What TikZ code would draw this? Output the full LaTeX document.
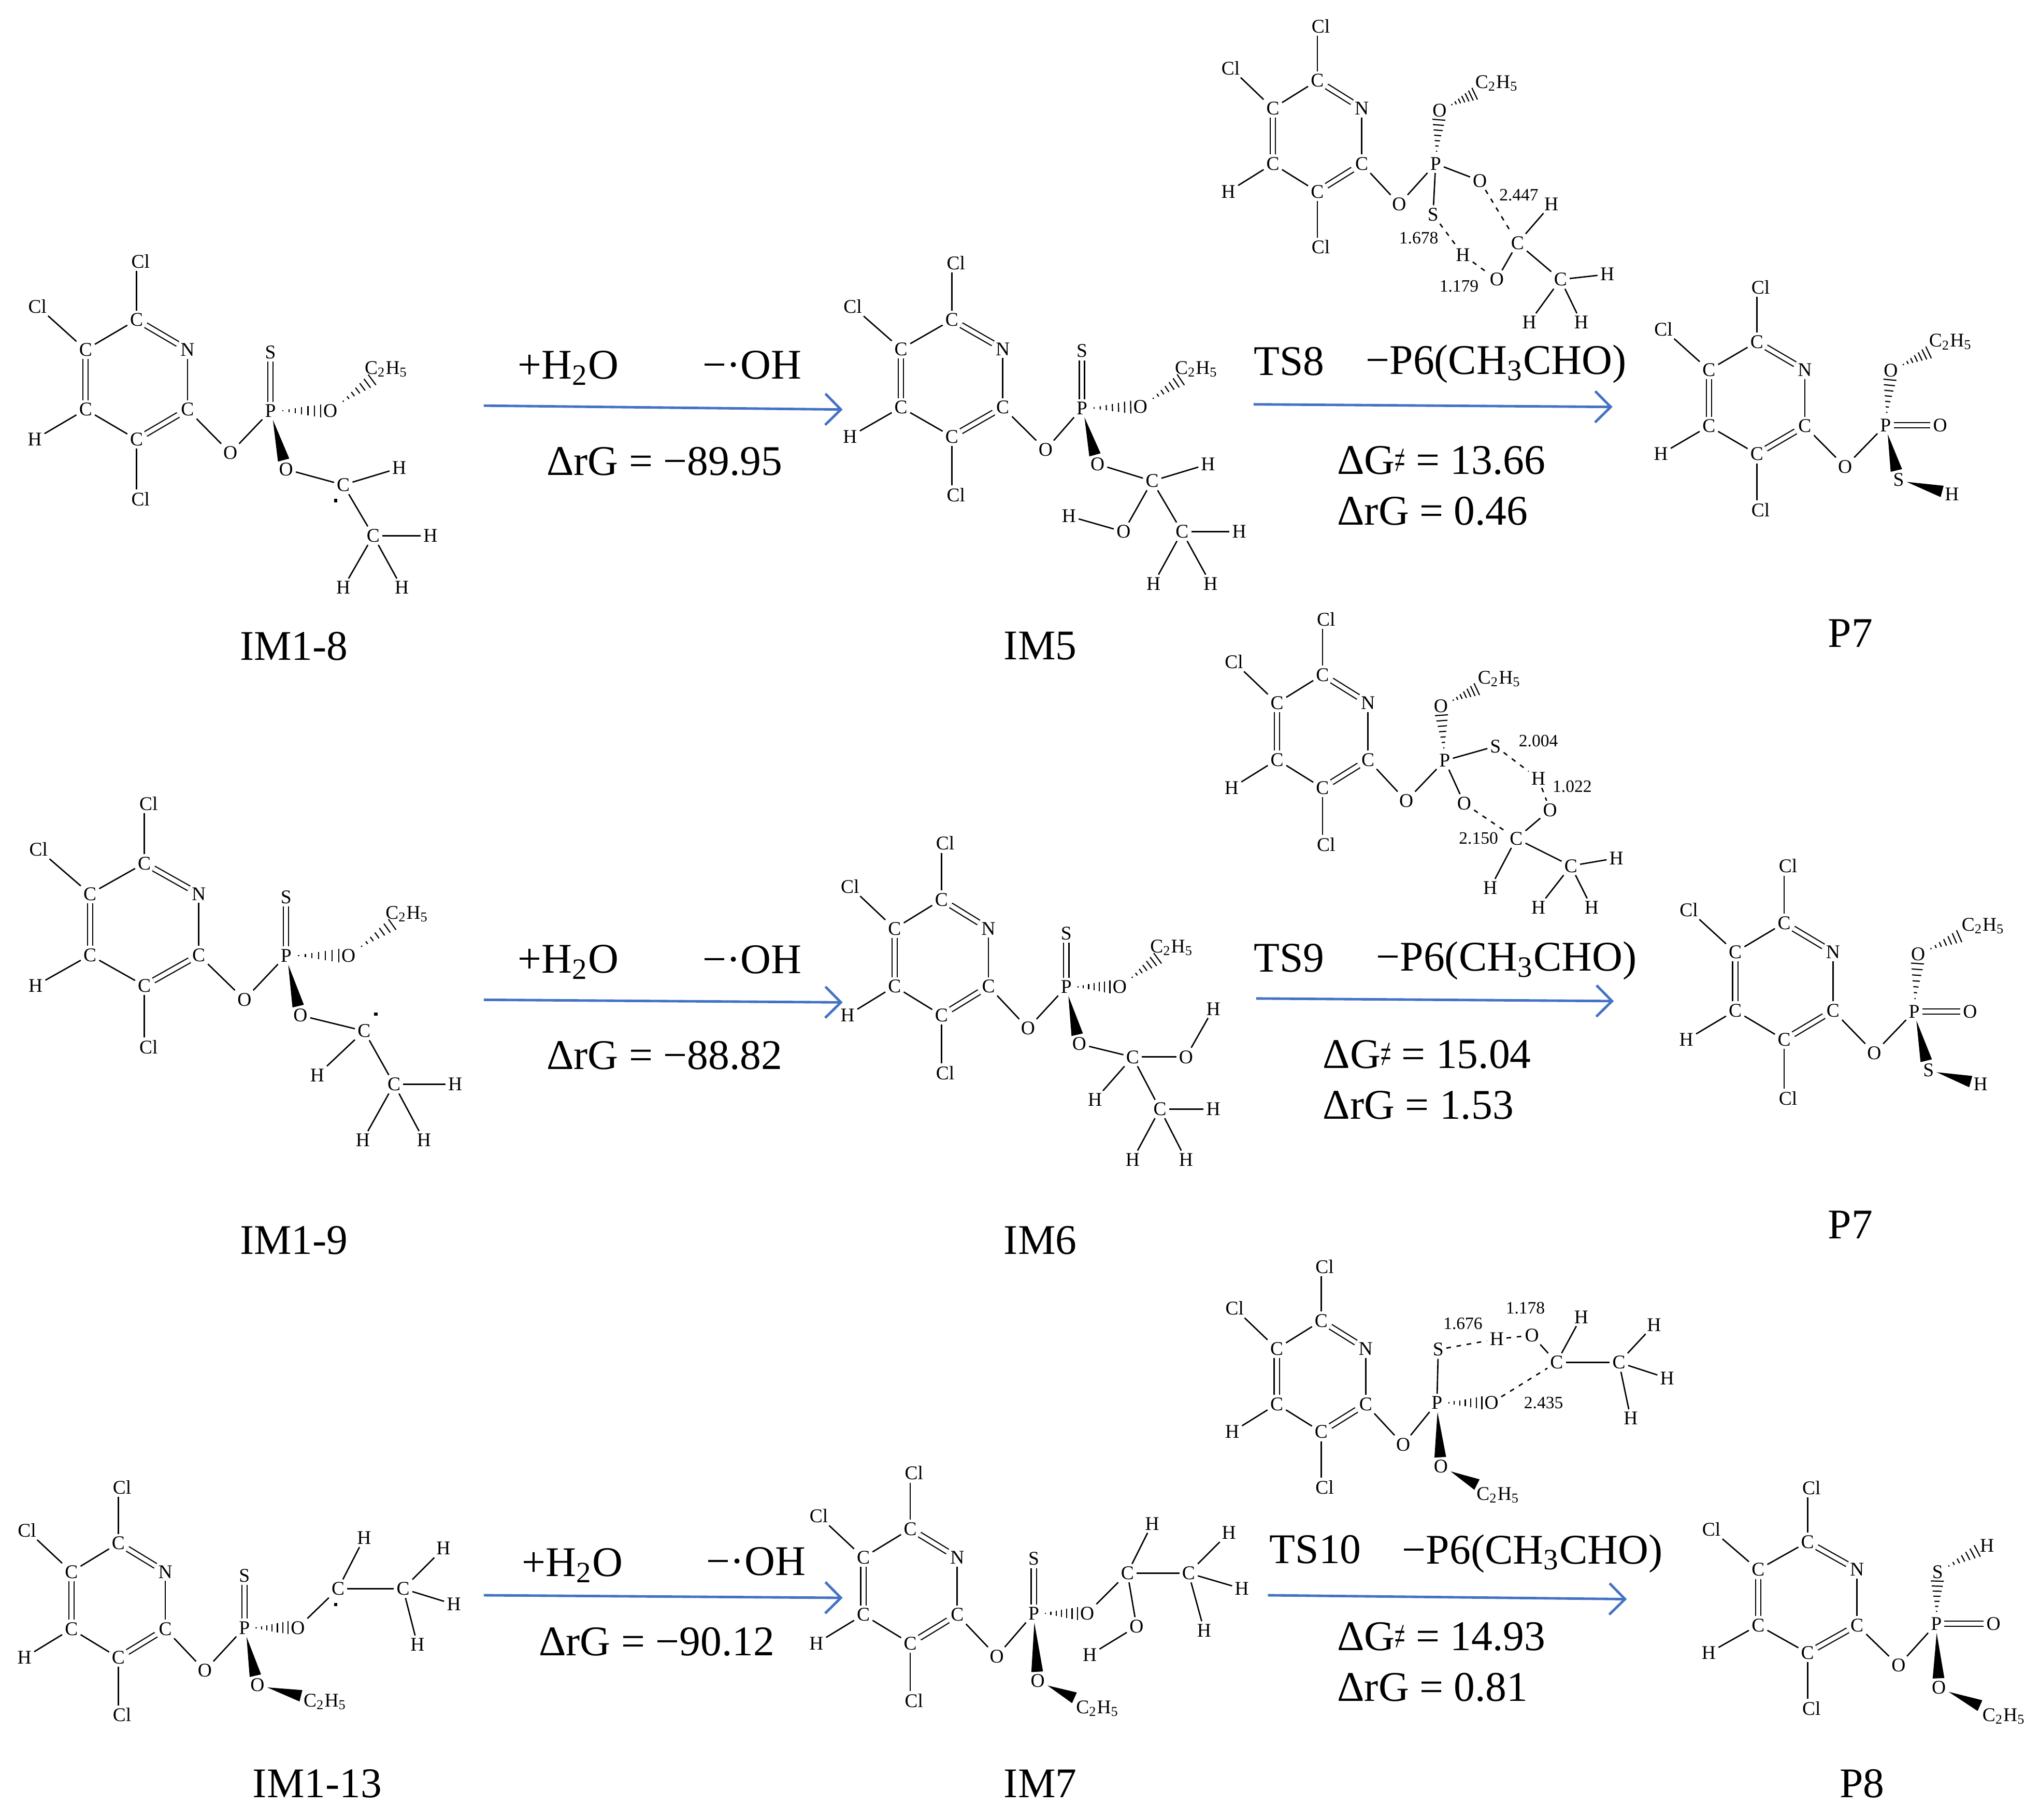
\documentclass[tikz,border=0pt]{standalone}
\usepackage{fontspec}
\setmainfont{Liberation Serif}
\usetikzlibrary{arrows.meta,calc}
\definecolor{rxnblue}{RGB}{68,114,196}
\tikzset{
  atom/.style={font=\fontsize{8.5}{10}\selectfont, inner sep=1pt},
  dist/.style={font=\fontsize{7.6}{9}\selectfont, inner sep=0},
  big/.style={font=\fontsize{18.5}{22}\selectfont, inner sep=0, anchor=west},
  mol/.style={font=\fontsize{18.5}{22}\selectfont, inner sep=0},
  bond/.style={line width=.6pt},
  dbl/.style={double, double distance=1.8pt, line width=.5pt},
  hbond/.style={line width=.6pt, dash pattern=on 2pt off 2.5pt},
  hash/.style={line width=.5pt},
  radical/.style={fill, inner sep=0, minimum size=1.4pt},
  rxn/.style={draw=rxnblue, line width=1.1pt, -{Straight Barb[length=.24cm, width=.48cm, line width=1.1pt]}}
}
\newcommand{\ethyl}{C\textsubscript{2}H\textsubscript{5}}
\newcommand{\noteq}{\scalebox{.45}[1]{≠}}
%pyridine ring with Cl, H and the ester O
\newcommand{\ring}[5]{
  \begin{scope}[shift={(#2,#3)}, xscale=#4, yscale=#5]
    \node[atom] (#1c1) at (0,0) {C};
    \node[atom] (#1c2) at (-38,22) {C};
    \node[atom] (#1n) at (38,22) {N};
    \node[atom] (#1c3) at (-38,66) {C};
    \node[atom] (#1c4) at (38,66) {C};
    \node[atom] (#1c5) at (0,88) {C};
    \node[atom] (#1cla) at (3,-43) {Cl};
    \node[atom] (#1clb) at (-74,-10) {Cl};
    \node[atom] (#1h) at (-76,88) {H};
    \node[atom] (#1clc) at (3,132) {Cl};
    \node[atom] (#1o) at (70,98) {O};
  \end{scope}
  \draw[bond] (#1c1) -- (#1c2);
  \draw[dbl] (#1c1) -- (#1n);
  \draw[dbl] (#1c2) -- (#1c3);
  \draw[bond] (#1n) -- (#1c4);
  \draw[bond] (#1c3) -- (#1c5);
  \draw[dbl] (#1c4) -- (#1c5);
  \draw[bond] (#1c1) -- (#1cla.south -| #1c1);
  \draw[bond] (#1c2) -- (#1clb);
  \draw[bond] (#1c3) -- (#1h);
  \draw[bond] (#1c5) -- (#1clc.north -| #1c5);
  \draw[bond] (#1c4) -- (#1o);
}
%solid wedge, narrow end at the first node
\newcommand{\wedgebond}[2]{
  \path (#1) -- (#2) coordinate[pos=0] (hs) coordinate[pos=1] (he);
  \fill (hs) -- ($(he)!.09cm!90:(hs)$) -- ($(he)!.09cm!-90:(hs)$) -- cycle;
}
%hashed wedge
\newcommand{\hashbond}[2]{
  \path (#1) -- (#2) coordinate[pos=0] (hs) coordinate[pos=1] (he);
  \coordinate (ht) at ($(he)!.1cm!90:(hs)$);
  \coordinate (hb) at ($(he)!.1cm!-90:(hs)$);
  \foreach \t in {.1,.25,.4,.55,.7,.85,1}{
    \draw[hash] ($(hs)!\t!(ht)$) -- ($(hs)!\t!(hb)$);
  }
}
\begin{document}
\begin{tikzpicture}[x=.02cm, y=-.02cm]
\useasboundingbox (0,0) rectangle (1568,1399.5);

%im1-8
\ring{a}{105}{246}{1.03}{1.045}
\node[atom] (aP) at (208,316) {P};
\node[atom] (aS) at (208,271) {S};
\node[atom] (aO1) at (254,316) {O};
\node[atom] (aE) at (297,284) {\ethyl};
\node[atom] (aO2) at (220,361) {O};
\node[atom] (aC1) at (264,373) {C};
\node[radical] (aR) at (258,385) {};
\node[atom] (aH1) at (307,360) {H};
\node[atom] (aC2) at (287,412) {C};
\node[atom] (aH2) at (331,412) {H};
\node[atom] (aH3) at (264,452) {H};
\node[atom] (aH4) at (309,452) {H};
\draw[bond] (ao) -- (aP);
\draw[dbl] (aP) -- (aS);
\hashbond{aP}{aO1}
\hashbond{aO1}{aE}
\wedgebond{aP}{aO2}
\draw[bond] (aO2) -- (aC1);
\draw[bond] (aC1) -- (aH1);
\draw[bond] (aC1) -- (aC2);
\draw[bond] (aC2) -- (aH2);
\draw[bond] (aC2) -- (aH3);
\draw[bond] (aC2) -- (aH4);
\node[mol] (nA) at (226,497) {IM1-8};

%im5
\ring{b}{732}{246}{1.03}{1.02}
\node[atom] (bP) at (832,314) {P};
\node[atom] (bS) at (832,270) {S};
\node[atom] (bO1) at (877,313) {O};
\node[atom] (bE) at (920,284) {\ethyl};
\node[atom] (bO2) at (844,357) {O};
\node[atom] (bC1) at (886,370) {C};
\node[atom] (bH1) at (929,357) {H};
\node[atom] (bO3) at (864,409) {O};
\node[atom] (bH5) at (822,397) {H};
\node[atom] (bC2) at (909,409) {C};
\node[atom] (bH2) at (953,409) {H};
\node[atom] (bH3) at (887,449) {H};
\node[atom] (bH4) at (931,449) {H};
\draw[bond] (bo) -- (bP);
\draw[dbl] (bP) -- (bS);
\hashbond{bP}{bO1}
\hashbond{bO1}{bE}
\wedgebond{bP}{bO2}
\draw[bond] (bO2) -- (bC1);
\draw[bond] (bC1) -- (bH1);
\draw[bond] (bC1) -- (bO3);
\draw[bond] (bO3) -- (bH5);
\draw[bond] (bC1) -- (bC2);
\draw[bond] (bC2) -- (bH2);
\draw[bond] (bC2) -- (bH3);
\draw[bond] (bC2) -- (bH4);
\node[mol] (nB) at (800,497) {IM5};

%ts8
\ring{c}{1013}{62}{.9}{.97}
\node[atom] (cP) at (1104,126) {P};
\node[atom] (cO1) at (1107,85) {O};
\node[atom] (cE) at (1151,64) {\ethyl};
\node[atom] (cO2) at (1138,139) {O};
\node[atom] (cS) at (1102,165) {S};
\node[atom] (cH5) at (1125,196) {H};
\node[atom] (cO3) at (1151,215) {O};
\node[atom] (cC1) at (1167,187) {C};
\node[atom] (cH1) at (1193,157) {H};
\node[atom] (cC2) at (1200,215) {C};
\node[atom] (cH2) at (1236,211) {H};
\node[atom] (cH3) at (1176,248) {H};
\node[atom] (cH4) at (1216,248) {H};
\node[dist] (cD1) at (1091,183) {1.678};
\node[dist] (cD2) at (1168,150) {2.447};
\node[dist] (cD3) at (1122,220) {1.179};
\draw[bond] (co) -- (cP);
\hashbond{cP}{cO1}
\hashbond{cO1}{cE}
\draw[bond] (cP) -- (cO2);
\draw[bond] (cP) -- (cS);
\draw[hbond] (cS) -- (cH5);
\draw[hbond] (cH5) -- (cO3);
\draw[hbond] (cO2) -- (cC1);
\draw[bond] (cO3) -- (cC1);
\draw[bond] (cC1) -- (cH1);
\draw[bond] (cC1) -- (cC2);
\draw[bond] (cC2) -- (cH2);
\draw[bond] (cC2) -- (cH3);
\draw[bond] (cC2) -- (cH4);

%p7
\ring{d}{1351}{263}{.97}{.98}
\node[atom] (dP) at (1450,327) {P};
\node[atom] (dO2) at (1492,327) {O};
\node[atom] (dO1) at (1454,285) {O};
\node[atom] (dE) at (1500,263) {\ethyl};
\node[atom] (dS) at (1460,369) {S};
\node[atom] (dH1) at (1501,380) {H};
\draw[bond] (do) -- (dP);
\draw[dbl] (dP) -- (dO2);
\hashbond{dP}{dO1}
\hashbond{dO1}{dE}
\wedgebond{dP}{dS}
\wedgebond{dS}{dH1}
\node[mol] (nD) at (1423,487) {P7};

%im1-9
\ring{e}{111}{664}{1.1}{1.07}
\node[atom] (eP) at (220,735) {P};
\node[atom] (eS) at (220,690) {S};
\node[atom] (eO1) at (268,735) {O};
\node[atom] (eE) at (313,703) {\ethyl};
\node[atom] (eO2) at (231,781) {O};
\node[atom] (eC1) at (280,793) {C};
\node[radical] (eR) at (289,780) {};
\node[atom] (eH1) at (244,827) {H};
\node[atom] (eC2) at (303,834) {C};
\node[atom] (eH2) at (350,834) {H};
\node[atom] (eH3) at (279,877) {H};
\node[atom] (eH4) at (326,877) {H};
\draw[bond] (eo) -- (eP);
\draw[dbl] (eP) -- (eS);
\hashbond{eP}{eO1}
\hashbond{eO1}{eE}
\wedgebond{eP}{eO2}
\draw[bond] (eO2) -- (eC1);
\draw[bond] (eC1) -- (eH1);
\draw[bond] (eC1) -- (eC2);
\draw[bond] (eC2) -- (eH2);
\draw[bond] (eC2) -- (eH3);
\draw[bond] (eC2) -- (eH4);
\node[mol] (nE) at (226,954) {IM1-9};

%im6
\ring{f}{724}{692}{.95}{1.01}
\node[atom] (fP) at (820,759) {P};
\node[atom] (fS) at (820,718) {S};
\node[atom] (fO1) at (861,759) {O};
\node[atom] (fE) at (901,729) {\ethyl};
\node[atom] (fO2) at (830,803) {O};
\node[atom] (fC1) at (871,813) {C};
\node[atom] (fO3) at (912,813) {O};
\node[atom] (fH5) at (933,776) {H};
\node[atom] (fH1) at (842,846) {H};
\node[atom] (fC2) at (892,853) {C};
\node[atom] (fH2) at (933,853) {H};
\node[atom] (fH3) at (871,892) {H};
\node[atom] (fH4) at (912,892) {H};
\draw[bond] (fo) -- (fP);
\draw[dbl] (fP) -- (fS);
\hashbond{fP}{fO1}
\hashbond{fO1}{fE}
\wedgebond{fP}{fO2}
\draw[bond] (fO2) -- (fC1);
\draw[bond] (fC1) -- (fO3);
\draw[bond] (fO3) -- (fH5);
\draw[bond] (fC1) -- (fH1);
\draw[bond] (fC1) -- (fC2);
\draw[bond] (fC2) -- (fH2);
\draw[bond] (fC2) -- (fH3);
\draw[bond] (fC2) -- (fH4);
\node[mol] (nF) at (800,954) {IM6};

%ts9
\ring{g}{1017}{519}{.92}{.99}
\node[atom] (gP) at (1111,585) {P};
\node[atom] (gO1) at (1108,543) {O};
\node[atom] (gE) at (1153,522) {\ethyl};
\node[atom] (gS) at (1150,574) {S};
\node[atom] (gH5) at (1183,599) {H};
\node[atom] (gO3) at (1192,623) {O};
\node[atom] (gO2) at (1126,618) {O};
\node[atom] (gC1) at (1166,645) {C};
\node[atom] (gC2) at (1208,666) {C};
\node[atom] (gH1) at (1146,683) {H};
\node[atom] (gH2) at (1243,660) {H};
\node[atom] (gH3) at (1183,698) {H};
\node[atom] (gH4) at (1224,698) {H};
\node[dist] (gD1) at (1183,570) {2.004};
\node[dist] (gD2) at (1209,605) {1.022};
\node[dist] (gD3) at (1137,645) {2.150};
\draw[bond] (go) -- (gP);
\hashbond{gP}{gO1}
\hashbond{gO1}{gE}
\draw[bond] (gP) -- (gS);
\draw[bond] (gP) -- (gO2);
\draw[hbond] (gS) -- (gH5);
\draw[hbond] (gH5) -- (gO3);
\draw[hbond] (gO2) -- (gC1);
\draw[bond] (gO3) -- (gC1);
\draw[bond] (gC1) -- (gH1);
\draw[bond] (gC1) -- (gC2);
\draw[bond] (gC2) -- (gH2);
\draw[bond] (gC2) -- (gH3);
\draw[bond] (gC2) -- (gH4);

%p7 second row
\ring{h}{1372}{710}{.99}{1.02}
\node[atom] (hP) at (1472,778) {P};
\node[atom] (hO2) at (1515,778) {O};
\node[atom] (hO1) at (1475,734) {O};
\node[atom] (hE) at (1525,712) {\ethyl};
\node[atom] (hS) at (1483,823) {S};
\node[atom] (hH1) at (1523,834) {H};
\draw[bond] (ho) -- (hP);
\draw[dbl] (hP) -- (hO2);
\hashbond{hP}{hO1}
\hashbond{hO1}{hE}
\wedgebond{hP}{hS}
\wedgebond{hS}{hH1}
\node[mol] (nH) at (1423,942) {P7};

%im1-13
\ring{i}{91}{1187}{.95}{1}
\node[atom] (iP) at (188,1252) {P};
\node[atom] (iS) at (188,1212) {S};
\node[atom] (iO1) at (229,1252) {O};
\node[atom] (iC1) at (260,1222) {C};
\node[radical] (iR) at (258,1234) {};
\node[atom] (iH1) at (280,1183) {H};
\node[atom] (iC2) at (310,1222) {C};
\node[atom] (iH2) at (341,1191) {H};
\node[atom] (iH3) at (349,1234) {H};
\node[atom] (iH4) at (321,1265) {H};
\node[atom] (iO2) at (198,1296) {O};
\node[atom] (iE) at (250,1309) {\ethyl};
\draw[bond] (io) -- (iP);
\draw[dbl] (iP) -- (iS);
\hashbond{iP}{iO1}
\draw[bond] (iO1) -- (iC1);
\draw[bond] (iC1) -- (iH1);
\draw[bond] (iC1) -- (iC2);
\draw[bond] (iC2) -- (iH2);
\draw[bond] (iC2) -- (iH3);
\draw[bond] (iC2) -- (iH4);
\wedgebond{iP}{iO2}
\wedgebond{iO2}{iE}
\node[mol] (nI) at (244,1372) {IM1-13};

%im7
\ring{j}{700}{1176}{.95}{1}
\node[atom] (jP) at (795,1241) {P};
\node[atom] (jS) at (795,1199) {S};
\node[atom] (jO1) at (836,1241) {O};
\node[atom] (jC1) at (867,1210) {C};
\node[atom] (jH1) at (886,1172) {H};
\node[atom] (jO3) at (874,1251) {O};
\node[atom] (jH5) at (838,1273) {H};
\node[atom] (jC2) at (914,1210) {C};
\node[atom] (jH2) at (945,1179) {H};
\node[atom] (jH3) at (955,1222) {H};
\node[atom] (jH4) at (926,1254) {H};
\node[atom] (jO2) at (798,1293) {O};
\node[atom] (jE) at (844,1314) {\ethyl};
\draw[bond] (jo) -- (jP);
\draw[dbl] (jP) -- (jS);
\hashbond{jP}{jO1}
\draw[bond] (jO1) -- (jC1);
\draw[bond] (jC1) -- (jH1);
\draw[bond] (jC1) -- (jO3);
\draw[bond] (jO3) -- (jH5);
\draw[bond] (jC1) -- (jC2);
\draw[bond] (jC2) -- (jH2);
\draw[bond] (jC2) -- (jH3);
\draw[bond] (jC2) -- (jH4);
\wedgebond{jP}{jO2}
\wedgebond{jO2}{jE}
\node[mol] (nJ) at (800,1372) {IM7};

%ts10
\ring{k}{1016}{1016}{.9}{.97}
\node[atom] (kP) at (1105,1079) {P};
\node[atom] (kS) at (1106,1038) {S};
\node[atom] (kH5) at (1151,1030) {H};
\node[atom] (kO3) at (1178,1027) {O};
\node[atom] (kH1) at (1216,1013) {H};
\node[atom] (kC1) at (1197,1048) {C};
\node[atom] (kC2) at (1245,1048) {C};
\node[atom] (kH2) at (1272,1019) {H};
\node[atom] (kH3) at (1282,1060) {H};
\node[atom] (kH4) at (1254,1091) {H};
\node[atom] (kO2) at (1147,1079) {O};
\node[atom] (kO1) at (1108,1128) {O};
\node[atom] (kE) at (1152,1150) {\ethyl};
\node[dist] (kD1) at (1125,1018) {1.676};
\node[dist] (kD2) at (1173,1006) {1.178};
\node[dist] (kD3) at (1187,1079) {2.435};
\draw[bond] (ko) -- (kP);
\draw[bond] (kP) -- (kS);
\draw[hbond] (kS) -- (kH5);
\draw[hbond] (kH5) -- (kO3);
\draw[bond] (kO3) -- (kC1);
\draw[bond] (kC1) -- (kH1);
\draw[bond] (kC1) -- (kC2);
\draw[bond] (kC2) -- (kH2);
\draw[bond] (kC2) -- (kH3);
\draw[bond] (kC2) -- (kH4);
\hashbond{kP}{kO2}
\draw[hbond] (kO2) -- (kC1);
\wedgebond{kP}{kO1}
\wedgebond{kO1}{kE}

%p8
\ring{l}{1390}{1186}{1}{.97}
\node[atom] (lP) at (1489,1249) {P};
\node[atom] (lO2) at (1533,1249) {O};
\node[atom] (lS) at (1490,1209) {S};
\node[atom] (lH1) at (1528,1189) {H};
\node[atom] (lO1) at (1491,1298) {O};
\node[atom] (lE) at (1541,1320) {\ethyl};
\draw[bond] (lo) -- (lP);
\draw[dbl] (lP) -- (lO2);
\hashbond{lP}{lS}
\hashbond{lS}{lH1}
\wedgebond{lP}{lO1}
\wedgebond{lO1}{lE}
\node[mol] (nL) at (1432,1372) {P8};

%first row arrows
\coordinate (r1s) at (372,312);
\coordinate (r1e) at (648,315);
\draw[rxn] (r1s) -- (r1e);
\node[big] (t1a) at (398,283) {+H\textsubscript{2}O};
\node[big] (t1b) at (540,281) {−·OH};
\node[big] (t1c) at (420,355) {ΔrG = −89.95};
\coordinate (r2s) at (964,311);
\coordinate (r2e) at (1240,313);
\draw[rxn] (r2s) -- (r2e);
\node[big] (t2a) at (964,278) {TS8};
\node[big] (t2b) at (1050,280) {−P6(CH\textsubscript{3}CHO)};
\node[big] (t2c) at (1028,354) {ΔG\noteq{} = 13.66};
\node[big] (t2d) at (1028,393) {ΔrG = 0.46};

%second row arrows
\coordinate (r3s) at (372,769);
\coordinate (r3e) at (648,771);
\draw[rxn] (r3s) -- (r3e);
\node[big] (t3a) at (398,740) {+H\textsubscript{2}O};
\node[big] (t3b) at (540,738) {−·OH};
\node[big] (t3c) at (420,812) {ΔrG = −88.82};
\coordinate (r4s) at (966,768);
\coordinate (r4e) at (1241,770);
\draw[rxn] (r4s) -- (r4e);
\node[big] (t4a) at (964,737) {TS9};
\node[big] (t4b) at (1058,739) {−P6(CH\textsubscript{3}CHO)};
\node[big] (t4c) at (1017,811) {ΔG\noteq{} = 15.04};
\node[big] (t4d) at (1017,850) {ΔrG = 1.53};

%third row arrows
\coordinate (r5s) at (372,1227);
\coordinate (r5e) at (648,1229);
\draw[rxn] (r5s) -- (r5e);
\node[big] (t5a) at (401,1204) {+H\textsubscript{2}O};
\node[big] (t5b) at (543,1201) {−·OH};
\node[big] (t5c) at (414,1263) {ΔrG = −90.12};
\coordinate (r6s) at (975,1227);
\coordinate (r6e) at (1251,1230);
\draw[rxn] (r6s) -- (r6e);
\node[big] (t6a) at (976,1192) {TS10};
\node[big] (t6b) at (1078,1195) {−P6(CH\textsubscript{3}CHO)};
\node[big] (t6c) at (1028,1259) {ΔG\noteq{} = 14.93};
\node[big] (t6d) at (1028,1298) {ΔrG = 0.81};
\end{tikzpicture}
\end{document}
